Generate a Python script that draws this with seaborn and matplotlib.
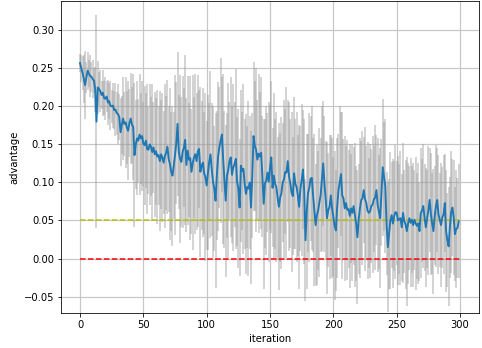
import numpy as np
import pandas as pd
import matplotlib
matplotlib.use("Agg")
import matplotlib.pyplot as plt
import seaborn as sns

mean_adv = [
    0.257, 0.250, 0.244, 0.236, 0.228, 0.238, 0.247, 0.243, 0.240, 0.239,
    0.236, 0.234, 0.222, 0.180, 0.225, 0.223, 0.220, 0.215, 0.218, 0.211,
    0.210, 0.213, 0.205, 0.207, 0.201, 0.200, 0.201, 0.195, 0.196, 0.191,
    0.190, 0.186, 0.166, 0.176, 0.184, 0.177, 0.179, 0.172, 0.168, 0.178,
    0.184, 0.176, 0.173, 0.136, 0.150, 0.158, 0.155, 0.163, 0.158, 0.161,
    0.151, 0.149, 0.155, 0.144, 0.143, 0.150, 0.147, 0.140, 0.146, 0.137,
    0.141, 0.134, 0.136, 0.128, 0.137, 0.133, 0.126, 0.135, 0.139, 0.147,
    0.131, 0.124, 0.114, 0.109, 0.122, 0.136, 0.152, 0.177, 0.140, 0.131,
    0.127, 0.140, 0.146, 0.156, 0.123, 0.142, 0.130, 0.132, 0.114, 0.126,
    0.133, 0.137, 0.128, 0.141, 0.144, 0.114, 0.122, 0.126, 0.112, 0.107,
    0.096, 0.113, 0.127, 0.137, 0.117, 0.101, 0.092, 0.076, 0.109, 0.134,
    0.146, 0.155, 0.163, 0.131, 0.104, 0.076, 0.109, 0.116, 0.128, 0.133,
    0.110, 0.120, 0.124, 0.131, 0.101, 0.092, 0.067, 0.122, 0.115, 0.118,
    0.098, 0.085, 0.094, 0.092, 0.100, 0.067, 0.109, 0.161, 0.148, 0.143,
    0.130, 0.138, 0.134, 0.139, 0.108, 0.072, 0.099, 0.102, 0.113, 0.101,
    0.120, 0.133, 0.093, 0.109, 0.098, 0.094, 0.080, 0.068, 0.080, 0.086,
    0.100, 0.104, 0.114, 0.113, 0.128, 0.108, 0.099, 0.087, 0.082, 0.112,
    0.098, 0.094, 0.083, 0.068, 0.092, 0.103, 0.117, 0.088, 0.024, 0.062,
    0.086, 0.093, 0.105, 0.106, 0.083, 0.064, 0.044, 0.057, 0.063, 0.074,
    0.084, 0.105, 0.125, 0.098, 0.077, 0.053, 0.064, 0.068, 0.083, 0.066,
    0.055, 0.043, 0.037, 0.067, 0.089, 0.100, 0.111, 0.083, 0.079, 0.066,
    0.073, 0.064, 0.065, 0.056, 0.066, 0.060, 0.069, 0.057, 0.046, 0.028,
    0.052, 0.066, 0.077, 0.079, 0.090, 0.078, 0.073, 0.063, 0.060, 0.062,
    0.069, 0.071, 0.078, 0.080, 0.090, 0.070, 0.061, 0.053, 0.087, 0.120,
    0.108, 0.095, 0.046, 0.015, 0.032, 0.050, 0.057, 0.046, 0.056, 0.061,
    0.060, 0.050, 0.052, 0.053, 0.041, 0.060, 0.049, 0.045, 0.036, 0.046,
    0.053, 0.047, 0.051, 0.044, 0.051, 0.046, 0.043, 0.046, 0.036, 0.060,
    0.063, 0.069, 0.054, 0.041, 0.052, 0.063, 0.077, 0.059, 0.046, 0.036,
    0.056, 0.069, 0.077, 0.058, 0.051, 0.044, 0.054, 0.058, 0.073, 0.036,
    0.024, 0.016, 0.041, 0.061, 0.067, 0.054, 0.032, 0.039, 0.040, 0.049,
]

std_adv = [
    0.012, 0.018, 0.022, 0.032, 0.045, 0.020, 0.025, 0.018, 0.028, 0.020,
    0.025, 0.016, 0.030, 0.140, 0.035, 0.022, 0.028, 0.018, 0.030, 0.022,
    0.028, 0.020, 0.030, 0.024, 0.032, 0.022, 0.030, 0.025, 0.035, 0.028,
    0.040, 0.030, 0.045, 0.038, 0.055, 0.042, 0.060, 0.048, 0.065, 0.045,
    0.060, 0.050, 0.070, 0.095, 0.058, 0.075, 0.055, 0.080, 0.060, 0.072,
    0.055, 0.078, 0.062, 0.085, 0.058, 0.080, 0.065, 0.090, 0.060, 0.082,
    0.070, 0.088, 0.065, 0.092, 0.072, 0.085, 0.068, 0.095, 0.075, 0.088,
    0.070, 0.100, 0.078, 0.092, 0.070, 0.105, 0.080, 0.095, 0.075, 0.110,
    0.085, 0.100, 0.078, 0.112, 0.088, 0.098, 0.075, 0.108, 0.082, 0.115,
    0.080, 0.105, 0.090, 0.100, 0.078, 0.112, 0.085, 0.098, 0.080, 0.110,
    0.085, 0.102, 0.078, 0.110, 0.088, 0.100, 0.082, 0.115, 0.085, 0.098,
    0.080, 0.108, 0.075, 0.112, 0.090, 0.100, 0.082, 0.115, 0.078, 0.105,
    0.090, 0.110, 0.082, 0.118, 0.085, 0.105, 0.090, 0.100, 0.078, 0.112,
    0.085, 0.105, 0.080, 0.115, 0.088, 0.100, 0.082, 0.098, 0.085, 0.108,
    0.078, 0.105, 0.085, 0.100, 0.080, 0.112, 0.085, 0.098, 0.078, 0.105,
    0.082, 0.100, 0.078, 0.108, 0.085, 0.098, 0.080, 0.110, 0.085, 0.100,
    0.078, 0.105, 0.082, 0.112, 0.080, 0.098, 0.085, 0.105, 0.078, 0.100,
    0.085, 0.098, 0.080, 0.108, 0.082, 0.100, 0.078, 0.095, 0.080, 0.102,
    0.078, 0.098, 0.082, 0.095, 0.075, 0.100, 0.080, 0.092, 0.078, 0.098,
    0.075, 0.095, 0.082, 0.090, 0.078, 0.100, 0.075, 0.095, 0.080, 0.092,
    0.078, 0.098, 0.080, 0.092, 0.075, 0.100, 0.082, 0.110, 0.078, 0.095,
    0.075, 0.092, 0.078, 0.095, 0.072, 0.090, 0.078, 0.095, 0.075, 0.088,
    0.072, 0.092, 0.078, 0.088, 0.070, 0.095, 0.075, 0.090, 0.072, 0.088,
    0.075, 0.090, 0.070, 0.095, 0.072, 0.088, 0.075, 0.092, 0.070, 0.090,
    0.072, 0.088, 0.068, 0.085, 0.072, 0.090, 0.070, 0.085, 0.072, 0.088,
    0.068, 0.085, 0.072, 0.088, 0.070, 0.092, 0.068, 0.085, 0.098, 0.080,
    0.068, 0.085, 0.070, 0.082, 0.066, 0.088, 0.070, 0.080, 0.065, 0.085,
    0.068, 0.082, 0.070, 0.078, 0.065, 0.085, 0.068, 0.080, 0.066, 0.082,
    0.065, 0.080, 0.068, 0.078, 0.062, 0.082, 0.066, 0.078, 0.064, 0.080,
    0.062, 0.078, 0.066, 0.080, 0.064, 0.076, 0.062, 0.078, 0.066, 0.075,
]

iterations = list(range(len(mean_adv)))
threshold_level = 0.05
zero_level = 0.0
x_label = "iteration"
y_label = "advantage"

df = pd.DataFrame({"iteration": iterations, "advantage": mean_adv, "std": std_adv})

DPI = 72
fig = plt.figure(figsize=(482 / DPI, 348 / DPI), dpi=DPI)
ax = fig.add_axes([0.1266, 0.1006, 0.8672, 0.8964])

lo = df["advantage"] - df["std"]
hi = df["advantage"] + df["std"]
ax.vlines(df["iteration"], lo, hi, colors="#a0a0a0", alpha=0.6, linewidth=1.5, zorder=2)

sns.lineplot(data=df, x="iteration", y="advantage", ax=ax, color="#1f77b4",
             linewidth=1.9, zorder=3)

n = len(mean_adv)
ax.hlines(threshold_level, 0, n, colors="y", linestyles="--", linewidth=1.5, zorder=2.5)
ax.hlines(zero_level, 0, n, colors="r", linestyles="--", linewidth=1.5, zorder=2.5)

ax.grid(True, color="#c6c6c6", linewidth=1.2)
ax.set_axisbelow(True)
ax.set_xlim(-15, 315)
ax.set_ylim(-0.0716, 0.3385)
ax.set_xticks([0, 50, 100, 150, 200, 250, 300])
ax.set_yticks([-0.05, 0.0, 0.05, 0.10, 0.15, 0.20, 0.25, 0.30])
ax.set_yticklabels(["−0.05", "0.00", "0.05", "0.10", "0.15", "0.20", "0.25", "0.30"])
ax.set_xlabel(x_label)
ax.set_ylabel(y_label)

fig.savefig("out.png", dpi=DPI)
